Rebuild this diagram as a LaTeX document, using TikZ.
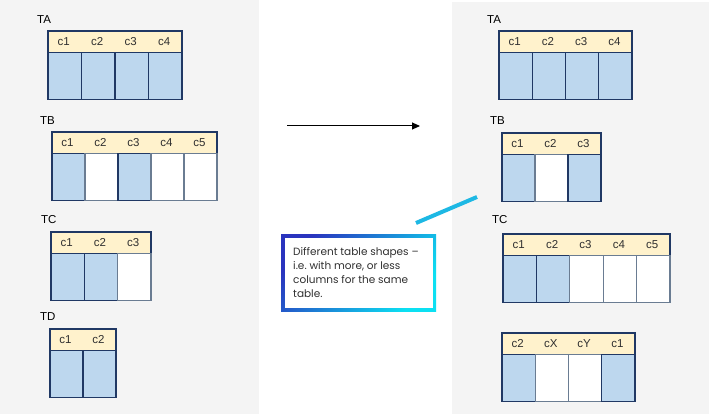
\documentclass[tikz,border=0pt]{standalone}
\usepackage{fontspec}
\setmainfont{Liberation Sans}
\newfontfamily\notefont{Poppins}
\usetikzlibrary{arrows.meta}
\definecolor{panelgray}{HTML}{F4F4F4}
\definecolor{hdrfill}{HTML}{FFF2CC}
\definecolor{cellblue}{HTML}{BDD7EE}
\definecolor{navy}{HTML}{203864}
\definecolor{softnavy}{HTML}{6A7C92}
\definecolor{gdark}{HTML}{2A34BE}
\definecolor{gcyan}{HTML}{0CE0F2}
\definecolor{callcyan}{HTML}{1DB8E4}
\definecolor{txtgray}{HTML}{303030}
\tikzset{
  hdrbox/.style={draw=navy, fill=hdrfill, line width=1.2pt, anchor=north west, inner sep=0pt, outer sep=0pt, minimum height=21.5pt},
  cellbox/.style={line width=1.2pt, anchor=north west, inner sep=0pt, outer sep=0pt, minimum height=47pt},
  bl/.style={fill=cellblue, draw=navy},
  wh/.style={fill=white, draw=softnavy},
  hdrtxt/.style={font=\fontsize{11.5}{13}\selectfont, text=txtgray, inner sep=0pt},
  tname/.style={font=\fontsize{11.5}{13}\selectfont, anchor=west, inner sep=0pt},
  notetext/.style={inner sep=0pt, anchor=west, align=left, font=\notefont\fontsize{10.5}{14}\selectfont, text=txtgray},
  flowarrow/.style={draw=black, line width=1pt, -{Triangle[length=8pt,width=7pt]}},
  callline/.style={draw=callcyan, line width=4pt}
}
\newcommand\mktable[6]{%
  \node[hdrbox, minimum width={#5*#4*1pt}] (#1-h) at (#2,#3) {};
  \foreach \lab/\sty [count=\i from 0] in {#6} {
    \node[cellbox, \sty, minimum width={#4*1pt}] (#1-\i) at ({#2+\i*#4}, {#3+21.5}) {};
    \node[hdrtxt] (#1-t\i) at ({#2+(\i+0.5)*#4-1}, {#3+10.5}) {\lab};
  }
}
\begin{document}
\begin{tikzpicture}[x=1pt,y=-1pt]
\useasboundingbox (0,0) rectangle (711,414);
\fill[white] (0,0) rectangle (711,414);
\fill[panelgray] (0,0) rectangle (259,414);
\fill[panelgray] (452,2) rectangle (709,414);

% left side
\node[tname] (lTA) at (37,20) {TA};
\mktable{lta}{48}{31}{33.5}{4}{c1/bl,c2/bl,c3/bl,c4/bl}
\node[tname] (lTB) at (40,121) {TB};
\mktable{ltb}{52}{132}{33}{5}{c1/bl,c2/wh,c3/bl,c4/wh,c5/wh}
\node[tname] (lTC) at (41,220) {TC};
\mktable{ltc}{51}{232}{33.3}{3}{c1/bl,c2/bl,c3/wh}
\node[tname] (lTD) at (40,317) {TD};
\mktable{ltd}{50}{329}{33}{2}{c1/bl,c2/bl}

% right side
\node[tname] (rTA) at (487,20) {TA};
\mktable{rta}{499}{31}{33.25}{4}{c1/bl,c2/bl,c3/bl,c4/bl}
\node[tname] (rTB) at (490,121) {TB};
\mktable{rtb}{502}{133}{33}{3}{c1/bl,c2/wh,c3/bl}
\node[tname] (rTC) at (492,220) {TC};
\mktable{rtc}{503}{234}{33.4}{5}{c1/bl,c2/bl,c3/wh,c4/wh,c5/wh}
\mktable{rtd}{502}{333}{33.25}{4}{c2/bl,cX/wh,cY/wh,c1/bl}

% arrow
\coordinate (a1) at (287,126);
\coordinate (a2) at (420,126);
\draw[flowarrow] (a1) -- (a2);

% callout
\shade[top color=gdark, bottom color=gcyan, shading angle=50] (281,234) rectangle (436,311);
\fill[white] (284.5,237.5) rectangle (432.5,307.5);
\node[notetext] (note) at (293,272.5) {Different table shapes –\\ i.e.\ with more, or less\\ columns for the same\\ table.};
\coordinate (ls) at (416,223);
\coordinate (le) at (477,197);
\draw[callline] (ls) -- (le);
\end{tikzpicture}
\end{document}
